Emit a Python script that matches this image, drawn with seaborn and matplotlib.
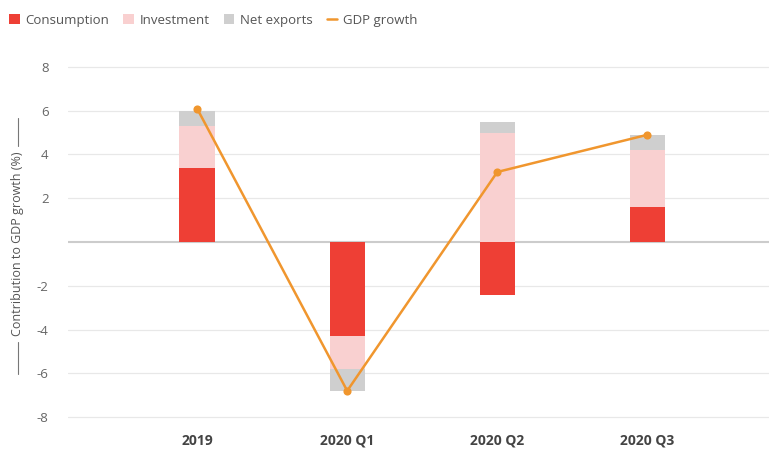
import matplotlib

matplotlib.use("Agg")
import matplotlib.pyplot as plt
from matplotlib.lines import Line2D
from matplotlib.patches import Patch
import numpy as np
import pandas as pd
import seaborn as sns

periods = ["2019", "2020 Q1", "2020 Q2", "2020 Q3"]
consumption = [3.4, -4.3, -2.4, 1.6]
investment = [1.9, -1.5, 5.0, 2.6]
net_exports = [0.7, -1.0, 0.5, 0.7]
gdp_growth = [6.1, -6.8, 3.2, 4.9]

COLORS = {
    "Consumption": "#ee3f35",
    "Investment": "#f9d0d0",
    "Net exports": "#cfcfcf",
}
LINE_COLOR = "#f0962e"


def main() -> None:
    sns.set_theme(style="white")
    plt.rcParams["font.family"] = ["Open Sans", "DejaVu Sans"]

    fig = plt.figure(figsize=(7.69, 4.5), dpi=100)
    ax = fig.add_axes([68 / 769, 22 / 450, 1 - 68 / 769, 372 / 450])

    series = {
        "Consumption": consumption,
        "Investment": investment,
        "Net exports": net_exports,
    }
    pos_base = np.zeros(len(periods))
    neg_base = np.zeros(len(periods))
    for name, vals in series.items():
        vals = np.array(vals, dtype=float)
        bottom = np.where(vals >= 0, pos_base, neg_base)
        df = pd.DataFrame({"period": periods, "value": vals})
        sns.barplot(data=df, x="period", y="value", color=COLORS[name],
                    width=0.235, bottom=bottom, ax=ax, saturation=1,
                    linewidth=0, zorder=2)
        pos_base += np.where(vals >= 0, vals, 0)
        neg_base += np.where(vals < 0, vals, 0)

    sns.pointplot(x=periods, y=gdp_growth, color=LINE_COLOR, ax=ax,
                  markers="o", markersize=4.5, linewidth=1.8, zorder=4)

    ax.set_ylim(-8.5, 8.5)
    ax.set_xlim(-0.86, 3.81)
    ax.set_yticks([-8, -6, -4, -2, 2, 4, 6, 8])
    ax.set_yticklabels(["-8", "-6", "-4", "-2", "2", "4", "6", "8"])
    ax.yaxis.grid(True, color="#e8e8e8", linewidth=0.9, zorder=0)
    ax.axhline(0, color="#cccccc", linewidth=1.5, zorder=1)
    for s in ax.spines.values():
        s.set_visible(False)
    ax.tick_params(axis="y", length=0, pad=14, labelsize=9.5, labelcolor="#666666")
    ax.tick_params(axis="x", length=0, pad=4, labelsize=10, labelcolor="#444444")
    for lbl in ax.get_xticklabels():
        lbl.set_fontweight("bold")
    ax.set_xlabel("")
    ax.set_ylabel("")

    # y axis title with short rules above and below
    fig.text(18 / 769, 1 - 244 / 450, "Contribution to GDP growth (%)",
             rotation=90, ha="center", va="center", fontsize=9, color="#555555")
    for y0, y1 in [(118, 146), (342, 374)]:
        fig.add_artist(Line2D([18 / 769, 18 / 769], [1 - y0 / 450, 1 - y1 / 450],
                              color="#777777", linewidth=0.8))

    handles = [Patch(facecolor=COLORS[k], edgecolor="none") for k in COLORS]
    handles.append(Line2D([0], [0], color=LINE_COLOR, linewidth=1.8))
    fig.legend(handles, list(COLORS) + ["GDP growth"], loc="upper left",
               bbox_to_anchor=(0.0, 0.99), ncol=4, frameon=False, fontsize=9.5,
               handlelength=0.8, handleheight=0.8, handletextpad=0.4,
               columnspacing=1.1, labelcolor="#555555", borderaxespad=0.3)

    fig.savefig("out.png", dpi=100)
    plt.close(fig)


if __name__ == "__main__":
    main()
